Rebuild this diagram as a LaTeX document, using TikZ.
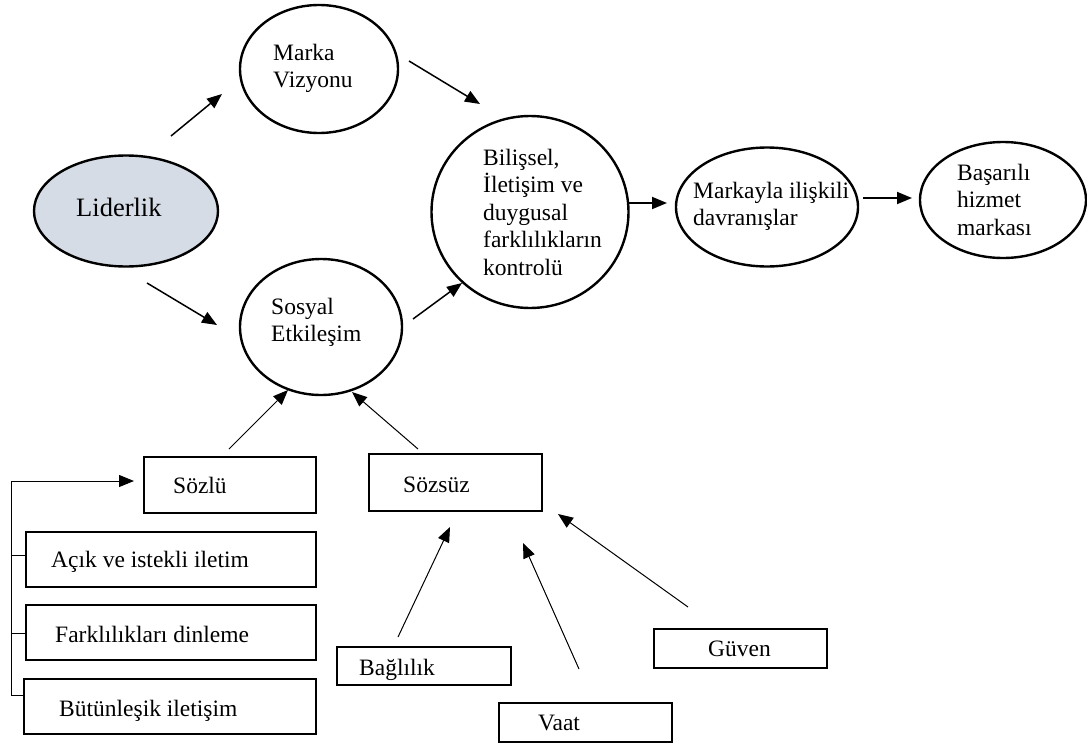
\documentclass[tikz,border=0pt]{standalone}
\usepackage{fontspec}
\setmainfont{Liberation Serif}
\usetikzlibrary{arrows.meta,shapes.geometric}
\definecolor{leadfill}{RGB}{214,220,229}
\newcommand\mylines[1]{\begin{tabular}[t]{@{}l@{}}#1\end{tabular}}

\begin{document}
\begin{tikzpicture}[x=1pt,y=-1pt,
  oval/.style={ellipse, draw, line width=2.4pt, inner sep=0pt},
  box/.style={rectangle, draw, line width=2pt, inner sep=0pt},
  txt/.style={anchor=base west, inner sep=0pt, font=\fontsize{23.5}{27.6}\selectfont},
  link/.style={-{Triangle[length=15pt,width=12pt]}, line width=1.5pt},
  thinlink/.style={-{Triangle[length=15pt,width=12pt]}, line width=1pt},
  bracket/.style={line width=1pt}]
\useasboundingbox (0,0) rectangle (1087,744);

% ovals of the upper chain
\node[oval, fill=leadfill, minimum width=184, minimum height=111] (lead) at (126,211) {};
\node[oval, minimum width=158, minimum height=128] (vision) at (319,69) {};
\node[oval, minimum width=162, minimum height=136] (social) at (321,327) {};
\node[oval, minimum width=197, minimum height=192] (control) at (530,212) {};
\node[oval, minimum width=182, minimum height=119] (behav) at (767,207) {};
\node[oval, minimum width=166, minimum height=116] (success) at (1003,200) {};

\node[txt, font=\fontsize{26.5}{30}\selectfont] (leadT) at (76,216) {Liderlik};
\node[txt] (visionT) at (273,60) {\mylines{Marka\\Vizyonu}};
\node[txt] (socialT) at (271,314) {\mylines{Sosyal\\Etkileşim}};
\node[txt] (controlT) at (483,165) {\mylines{Bilişsel,\\İletişim ve\\duygusal\\farklılıkların\\kontrolü}};
\node[txt] (behavT) at (693,198) {\mylines{Markayla ilişkili\\davranışlar}};
\node[txt] (successT) at (957,180) {\mylines{Başarılı\\hizmet\\markası}};

% boxes of the lower part
\node[box, minimum width=172, minimum height=56] (verbal) at (230,485) {};
\node[box, minimum width=290, minimum height=55] (open) at (171,559.5) {};
\node[box, minimum width=290, minimum height=55] (listen) at (171,632.5) {};
\node[box, minimum width=292, minimum height=55] (integr) at (170,706.5) {};
\node[box, minimum width=173, minimum height=57] (nonverbal) at (455.5,482.5) {};
\node[box, minimum width=174, minimum height=38] (commit) at (424,666) {};
\node[box, minimum width=173, minimum height=39] (promise) at (585.5,722.5) {};
\node[box, minimum width=173, minimum height=39] (trust) at (740.5,648.5) {};

\node[txt] (verbalT) at (173,493) {Sözlü};
\node[txt] (openT) at (51,567) {Açık ve istekli iletim};
\node[txt] (listenT) at (55,642) {Farklılıkları dinleme};
\node[txt] (integrT) at (59,716) {Bütünleşik iletişim};
\node[txt] (nonverbalT) at (403,492) {Sözsüz};
\node[txt] (commitT) at (359,675) {Bağlılık};
\node[txt] (promiseT) at (538,730) {Vaat};
\node[txt] (trustT) at (708,656) {Güven};

% free-standing arrow ends
\coordinate (lvA) at (171,136); \coordinate (lvB) at (222,94);
\coordinate (lsA) at (147,283); \coordinate (lsB) at (217,325);
\coordinate (vcA) at (409,61);  \coordinate (vcB) at (480,104);
\coordinate (scA) at (413,319); \coordinate (scB) at (462,283);
\coordinate (cbA) at (629,203); \coordinate (cbB) at (667,203);
\coordinate (bsA) at (863,198); \coordinate (bsB) at (912,198);
\coordinate (vsA) at (229,449); \coordinate (vsB) at (288,390);
\coordinate (nsA) at (418,449); \coordinate (nsB) at (352,392);
\coordinate (cnA) at (398,637); \coordinate (cnB) at (450,527);
\coordinate (pnA) at (579,669); \coordinate (pnB) at (523,543);
\coordinate (tnA) at (688,607); \coordinate (tnB) at (558,514);

\draw[link] (lvA) -- (lvB);
\draw[link] (lsA) -- (lsB);
\draw[link] (vcA) -- (vcB);
\draw[link] (scA) -- (scB);
\draw[link, line width=1.8pt] (cbA) -- (cbB);
\draw[link, line width=1.8pt] (bsA) -- (bsB);
\draw[thinlink] (vsA) -- (vsB);
\draw[thinlink] (nsA) -- (nsB);
\draw[thinlink] (cnA) -- (cnB);
\draw[thinlink] (pnA) -- (pnB);
\draw[thinlink] (tnA) -- (tnB);

% bracket gathering the verbal items
\coordinate (brTop) at (11,481);
\coordinate (brA) at (11,555);
\coordinate (brB) at (11,633);
\coordinate (brBot) at (11,695);
\draw[bracket] (brBot) -- (brTop);
\draw[thinlink, shorten >=9pt] (brTop) -- (brTop -| verbal.west);
\draw[bracket] (brA) -- (brA -| open.west);
\draw[bracket] (brB) -- (brB -| listen.west);
\draw[bracket] (brBot) -- (brBot -| integr.west);
\end{tikzpicture}
\end{document}
